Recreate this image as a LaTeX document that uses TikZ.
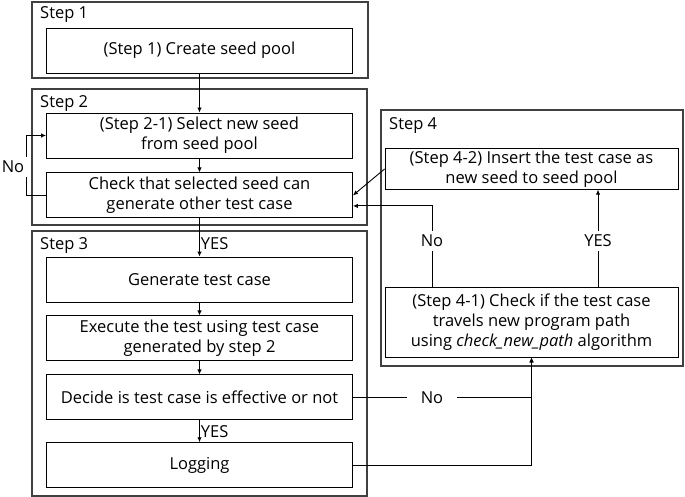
\documentclass[tikz,border=0pt]{standalone}
\usepackage{fontspec}
\setmainfont{Open Sans}
\usetikzlibrary{arrows.meta, positioning, calc}
\newcommand{\boxfont}{\fontsize{16.5}{20}\selectfont}
\tikzset{
    stepbox/.style={
        rectangle, minimum width=306pt, minimum height=45pt, inner sep=2pt,
        align=center, draw=black, line width=0.9pt, font=\boxfont
    },
    stepframe/.style={
        draw=black!75, line width=1.3pt
    },
    steplabel/.style={
        anchor=west, inner sep=0pt, font=\boxfont
    },
    arrow/.style={
        -{Latex[length=5pt, width=4.5pt]}, line width=0.9pt
    },
    tag/.style={
        fill=white, inner xsep=3pt, inner ysep=4pt, font=\boxfont
    }
}

\begin{document}
\begin{tikzpicture}[x=1pt, y=1pt]

    \useasboundingbox (0,0) rectangle (685,-497);

    % ── Left column ──
    \node[stepbox]                      (create) at (199.5,-50.5)  {(Step 1) Create seed pool};

    \node[stepbox]                      (select) at (199.5,-135.5) {(Step 2-1) Select new seed\\from seed pool};
    \node[stepbox, below=14pt of select] (check)   {Check that selected seed can\\generate other test case};

    \node[stepbox]                      (generate) at (199.5,-279.5) {Generate test case};
    \node[stepbox, below=13pt of generate] (execute) {Execute the test using test case\\generated by step 2};
    \node[stepbox, below=13pt of execute]  (decide)  {Decide is test case is effective or not};
    \node[stepbox, below=22pt of decide]   (logging) {Logging};

    % ── Right column ──
    \node[stepbox, minimum width=293pt, minimum height=40pt] (insert) at (531.5,-169)
        {(Step 4-2) Insert the test case as\\new seed to seed pool};
    \node[stepbox, minimum width=293pt, minimum height=70pt] (travel) at (531.5,-322)
        {(Step 4-1) Check if the test case\\travels new program path\\using \textit{check\_new\_path} algorithm};

    % ── Step frames ──
    \draw[stepframe] (32,-2)   rectangle (368,-78);
    \draw[stepframe] (32,-89)  rectangle (367,-225);
    \draw[stepframe] (32,-231) rectangle (367,-496);
    \draw[stepframe] (381,-110) rectangle (683,-366);

    \node[steplabel] (s1) at (40,-15)  {Step 1};
    \node[steplabel] (s2) at (40,-104) {Step 2};
    \node[steplabel] (s3) at (40,-246) {Step 3};
    \node[steplabel] (s4) at (389,-126) {Step 4};

    % ── Arrows ──
    \coordinate (nox)  at (432,0);
    \coordinate (yesx) at (598,0);
    \coordinate (noin) at ($(check.east)+(0,-10.5)$);

    \draw[arrow] (create)   -- (select);
    \draw[arrow] (select)   -- (check);
    \draw[arrow] (check)    -- (generate) node[pos=0.65, anchor=west, inner sep=1pt, font=\boxfont] {YES};
    \draw[arrow] (generate) -- (execute);
    \draw[arrow] (execute)  -- (decide);
    \draw[arrow] (decide)   -- (logging) node[midway, anchor=west, inner sep=1pt, font=\boxfont] {YES};

    \draw[arrow] (check.west) -- ++(-20,0) |- (select.west);
    \node[tag] (noleft) at (13,-167) {No};

    \draw[arrow] (decide.east)  -| (travel.south);
    \draw[arrow] (logging.east) -| (travel.south);
    \node[tag, inner xsep=14pt] (nomid) at (432,-398) {No};

    \draw[arrow] (travel.north -| nox)  |- (noin);
    \draw[arrow] (travel.north -| yesx) -- (insert.south -| yesx);
    \draw[arrow] (insert.west) -- (check.east);
    \node[tag] (noup)  at (432,-241) {No};
    \node[tag] (yesup) at (598,-241) {YES};

\end{tikzpicture}
\end{document}
